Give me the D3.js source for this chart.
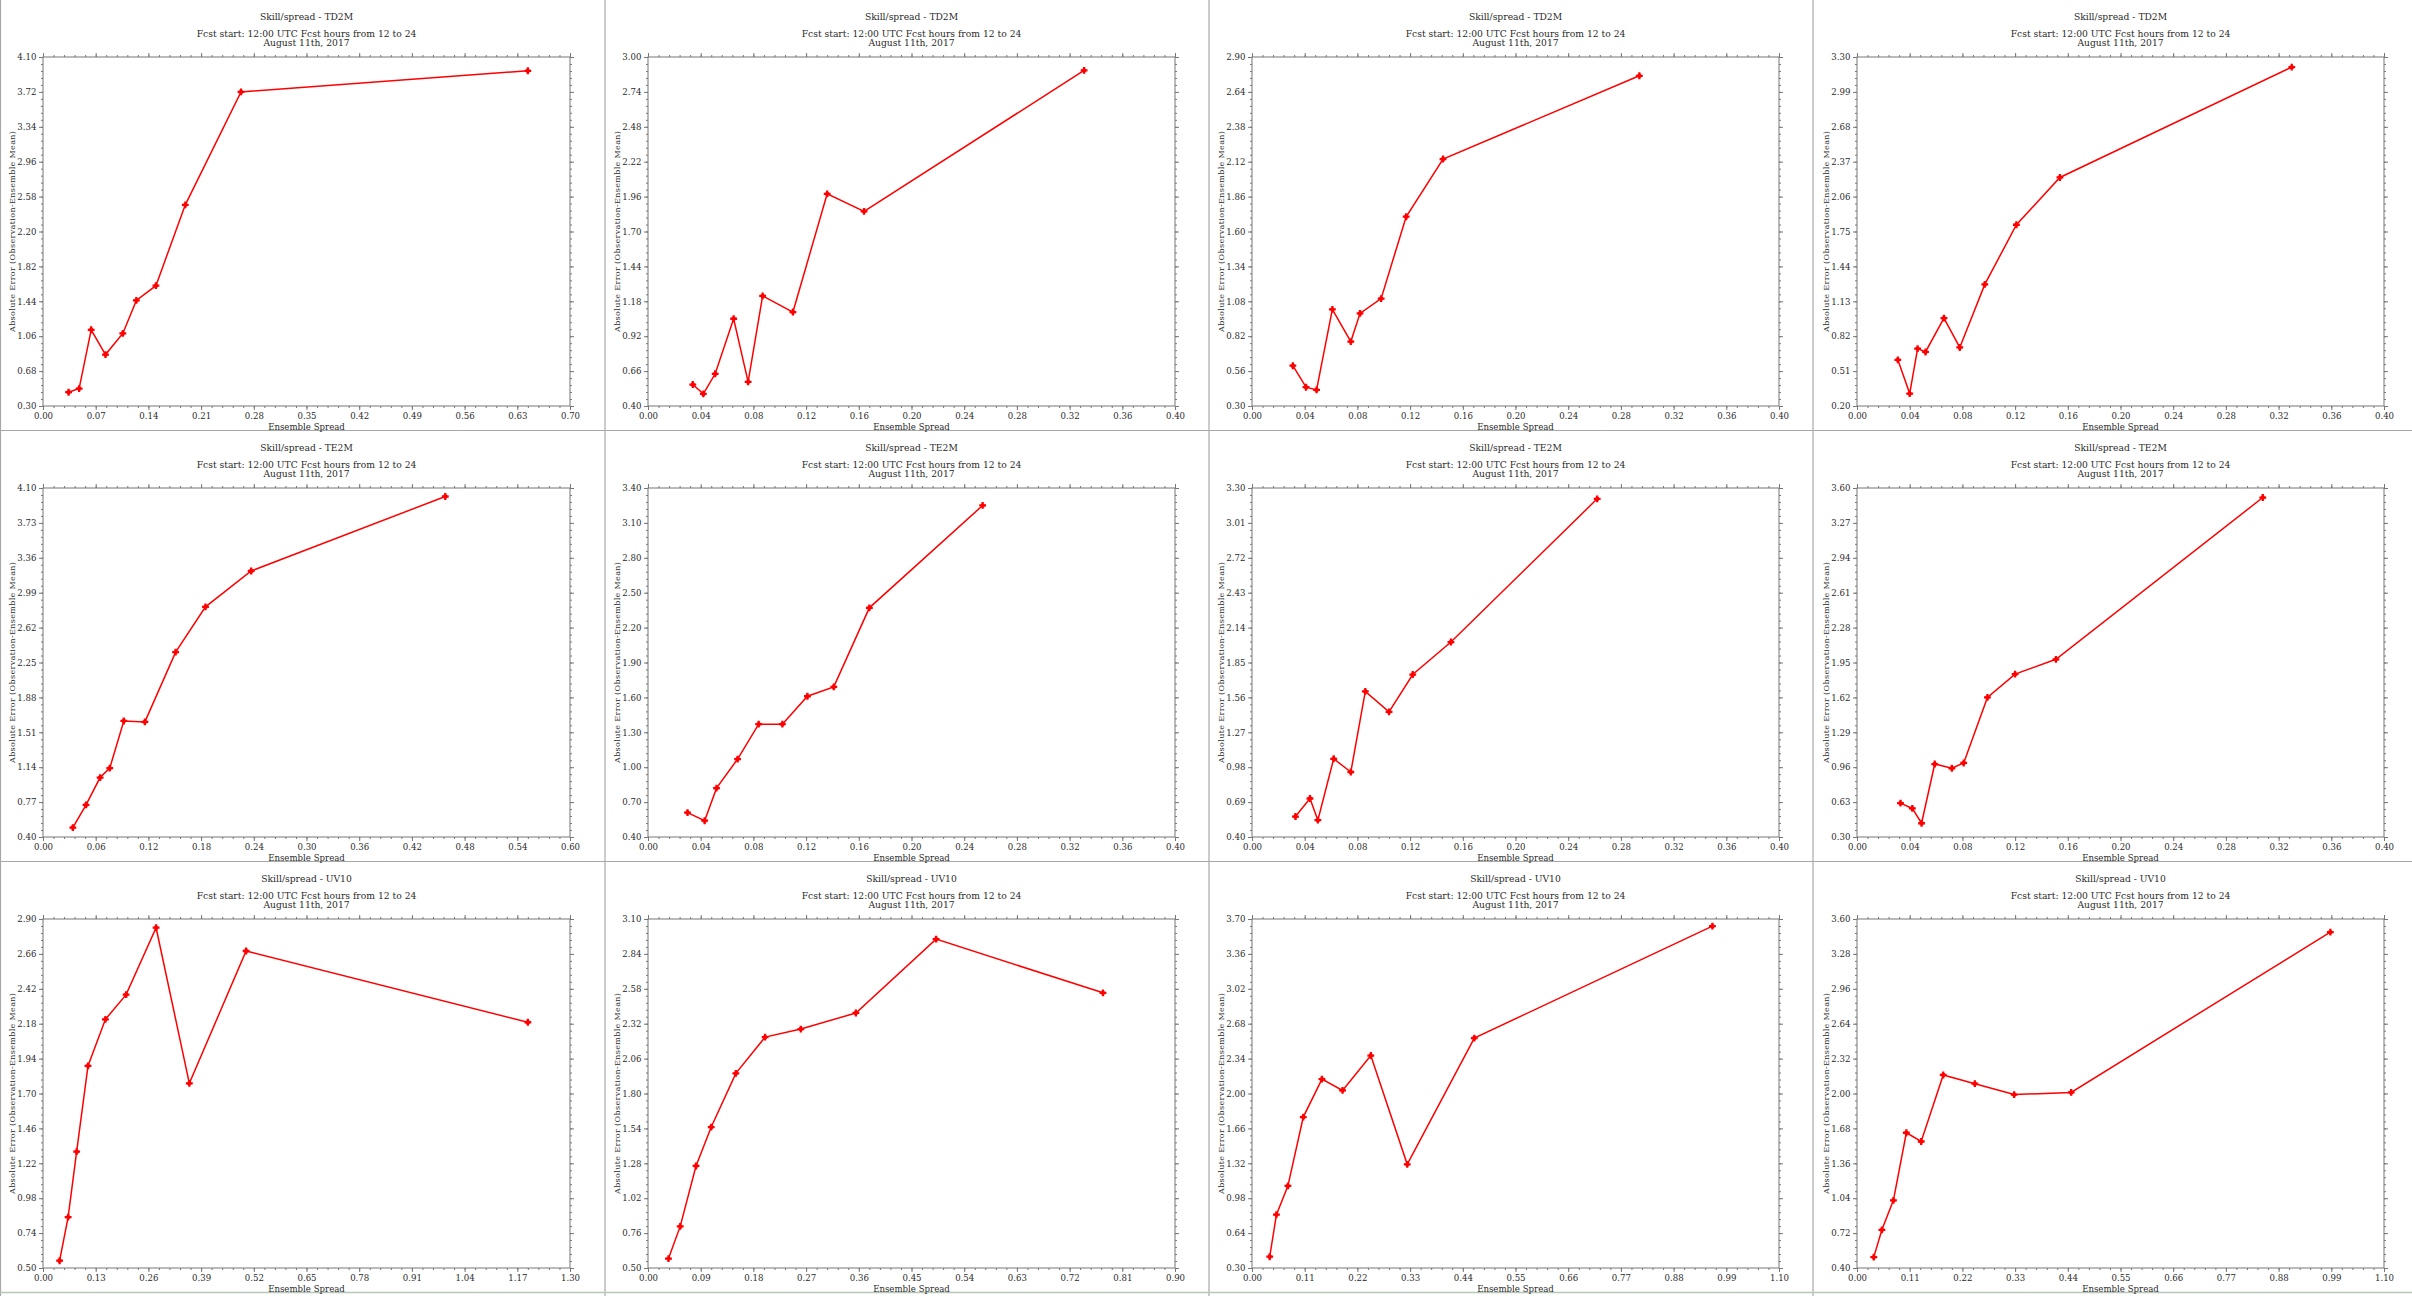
<!DOCTYPE html>
<html>
<head>
<meta charset="utf-8">
<script src="https://cdn.jsdelivr.net/npm/d3@7"></script>
<style>
  body { margin: 0; background: #fff; }
  svg text { font-family: "DejaVu Serif", "Liberation Serif", serif; fill: #2a2a2a; }
</style>
</head>
<body>
<script>
// Chart values, one entry per panel (row by row: TD2M, TE2M, UV10)
var variables = ["TD2M", "TD2M", "TD2M", "TD2M", "TE2M", "TE2M", "TE2M", "TE2M", "UV10", "UV10", "UV10", "UV10"];
var subtitle1 = "Fcst start: 12:00 UTC Fcst hours from 12 to 24";
var subtitle2 = "August 11th, 2017";

// axis ranges (x starts at 0)
var xMax = [0.70, 0.40, 0.40, 0.40, 0.60, 0.40, 0.40, 0.40, 1.30, 0.90, 1.10, 1.10];
var yMin = [0.30, 0.40, 0.30, 0.20, 0.40, 0.40, 0.40, 0.30, 0.50, 0.50, 0.30, 0.40];
var yMax = [4.10, 3.00, 2.90, 3.30, 4.10, 3.40, 3.30, 3.60, 2.90, 3.10, 3.70, 3.60];

// ensemble spread (x) per panel
var spread = [
  [0.034, 0.048, 0.064, 0.083, 0.106, 0.124, 0.150, 0.189, 0.263, 0.644],
  [0.034, 0.042, 0.051, 0.065, 0.076, 0.087, 0.110, 0.136, 0.164, 0.331],
  [0.031, 0.041, 0.049, 0.061, 0.075, 0.082, 0.098, 0.117, 0.145, 0.294],
  [0.031, 0.040, 0.046, 0.052, 0.066, 0.078, 0.097, 0.121, 0.154, 0.330],
  [0.034, 0.049, 0.065, 0.076, 0.092, 0.116, 0.151, 0.185, 0.237, 0.458],
  [0.030, 0.043, 0.052, 0.068, 0.084, 0.102, 0.121, 0.141, 0.168, 0.254],
  [0.033, 0.044, 0.050, 0.062, 0.075, 0.086, 0.104, 0.122, 0.151, 0.262],
  [0.033, 0.042, 0.049, 0.059, 0.072, 0.081, 0.099, 0.120, 0.151, 0.308],
  [0.041, 0.062, 0.083, 0.111, 0.154, 0.205, 0.279, 0.361, 0.501, 1.196],
  [0.035, 0.055, 0.082, 0.108, 0.150, 0.200, 0.261, 0.355, 0.492, 0.777],
  [0.037, 0.051, 0.075, 0.107, 0.146, 0.189, 0.248, 0.324, 0.464, 0.961],
  [0.035, 0.052, 0.076, 0.103, 0.134, 0.180, 0.246, 0.328, 0.447, 0.988]
];

// absolute error (y) per panel
var absError = [
  [0.45, 0.49, 1.13, 0.86, 1.09, 1.45, 1.61, 2.49, 3.72, 3.95],
  [0.56, 0.49, 0.64, 1.05, 0.58, 1.22, 1.10, 1.98, 1.85, 2.90],
  [0.60, 0.44, 0.42, 1.02, 0.78, 0.99, 1.10, 1.71, 2.14, 2.76],
  [0.61, 0.31, 0.71, 0.68, 0.98, 0.72, 1.28, 1.81, 2.23, 3.21],
  [0.50, 0.74, 1.03, 1.13, 1.63, 1.62, 2.36, 2.84, 3.22, 4.01],
  [0.61, 0.54, 0.82, 1.07, 1.37, 1.37, 1.61, 1.69, 2.37, 3.25],
  [0.57, 0.72, 0.54, 1.05, 0.94, 1.61, 1.44, 1.75, 2.02, 3.21],
  [0.62, 0.57, 0.43, 0.99, 0.95, 1.00, 1.62, 1.84, 1.98, 3.51],
  [0.55, 0.85, 1.30, 1.89, 2.21, 2.38, 2.84, 1.77, 2.68, 2.19],
  [0.57, 0.81, 1.26, 1.55, 1.95, 2.22, 2.28, 2.40, 2.95, 2.55],
  [0.41, 0.82, 1.10, 1.77, 2.14, 2.03, 2.37, 1.31, 2.54, 3.63],
  [0.50, 0.75, 1.02, 1.64, 1.56, 2.17, 2.09, 1.99, 2.01, 3.48]
];

var svgWidth = 2412;
var svgHeight = 1296;

// plot area of each column / row
var colLeft = [43, 648, 1252, 1857];
var rowTop = [57, 488, 919];
var plotW = 527;
var plotH = 349;

var svg = d3.select("body")
  .append("svg")
  .attr("width", svgWidth)
  .attr("height", svgHeight);

svg.append("rect")
  .attr("width", svgWidth)
  .attr("height", svgHeight)
  .attr("fill", "#fff");

// panel separators
[0.5, 605, 1209, 1813].forEach(function(x) {
  svg.append("line")
    .attr("x1", x).attr("x2", x)
    .attr("y1", 0).attr("y2", svgHeight)
    .attr("stroke", "#a8a8a8").attr("stroke-width", 1.2);
});
[430.5, 861.5].forEach(function(y) {
  svg.append("line")
    .attr("x1", 0).attr("x2", svgWidth)
    .attr("y1", y).attr("y2", y)
    .attr("stroke", "#a8a8a8").attr("stroke-width", 1.2);
});
svg.append("line")
  .attr("x1", 0).attr("x2", svgWidth)
  .attr("y1", 1292.5).attr("y2", 1292.5)
  .attr("stroke", "#b8c8b8").attr("stroke-width", 1.5);

var fmt = d3.format(".2f");
var symbol = d3.symbol().type(d3.symbolCross).size(26);

variables.forEach(function(v, i) {
  var col = i % 4, row = Math.floor(i / 4);
  var left = colLeft[col], top = rowTop[row];

  var x = d3.scaleLinear().domain([0, xMax[i]]).range([0, plotW]);
  var y = d3.scaleLinear().domain([yMin[i], yMax[i]]).range([plotH, 0]);

  var xMajor = d3.range(11).map(function(k) { return xMax[i] * k / 10; });
  var yMajor = d3.range(11).map(function(k) { return yMin[i] + (yMax[i] - yMin[i]) * k / 10; });
  var xMinor = d3.range(51).map(function(k) { return xMax[i] * k / 50; });
  var yMinor = d3.range(51).map(function(k) { return yMin[i] + (yMax[i] - yMin[i]) * k / 50; });

  var g = svg.append("g")
    .attr("transform", `translate(${left}, ${top})`);

  // titles
  g.append("text")
    .attr("x", plotW / 2).attr("y", -37)
    .attr("text-anchor", "middle")
    .attr("font-size", "9.2px")
    .text("Skill/spread - " + v);
  g.append("text")
    .attr("x", plotW / 2).attr("y", -19.7)
    .attr("text-anchor", "middle")
    .attr("font-size", "9.2px")
    .text(subtitle1);
  g.append("text")
    .attr("x", plotW / 2).attr("y", -11)
    .attr("text-anchor", "middle")
    .attr("font-size", "9.2px")
    .text(subtitle2);

  // frame
  g.append("rect")
    .attr("width", plotW).attr("height", plotH)
    .attr("fill", "none")
    .attr("stroke", "#777").attr("stroke-width", 1);

  function addAxis(axisFn, scale, major, minor, transform, labels) {
    var minorAxis = axisFn(scale).tickValues(minor).tickSize(2).tickFormat("");
    var majorAxis = axisFn(scale).tickValues(major).tickSize(4).tickPadding(2.5)
      .tickFormat(labels ? fmt : "");
    [minorAxis, majorAxis].forEach(function(a) {
      var ax = g.append("g").attr("transform", transform).call(a);
      ax.select(".domain").remove();
      ax.selectAll("line").attr("stroke", "#777");
      ax.selectAll("text")
        .attr("font-size", "8.6px")
        .attr("fill", "#2a2a2a")
        .style("font-family", "DejaVu Serif, serif");
    });
  }

  addAxis(d3.axisBottom, x, xMajor, xMinor, `translate(0, ${plotH})`, true);
  addAxis(d3.axisTop, x, xMajor, xMinor, "translate(0, 0)", false);
  addAxis(d3.axisLeft, y, yMajor, yMinor, "translate(0, 0)", true);
  addAxis(d3.axisRight, y, yMajor, yMinor, `translate(${plotW}, 0)`, false);

  // axis titles
  g.append("text")
    .attr("x", plotW / 2).attr("y", plotH + 23.5)
    .attr("text-anchor", "middle")
    .attr("font-size", "8.6px")
    .text("Ensemble Spread");
  g.append("text")
    .attr("transform", `translate(-28.5, ${plotH / 2}) rotate(-90)`)
    .attr("text-anchor", "middle")
    .attr("font-size", "8px")
    .attr("textLength", 201)
    .attr("lengthAdjust", "spacing")
    .text("Absolute Error (Observation-Ensemble Mean)");

  var pts = spread[i].map(function(s, k) { return [s, absError[i][k]]; });

  var line = d3.line()
    .x(function(d) { return x(d[0]); })
    .y(function(d) { return y(d[1]); });

  g.append("path")
    .datum(pts)
    .attr("d", line)
    .attr("fill", "none")
    .attr("stroke", "#ff0000")
    .attr("stroke-width", 1.5);

  g.selectAll(".pt")
    .data(pts)
    .enter()
    .append("path")
    .attr("class", "pt")
    .attr("transform", function(d) { return `translate(${x(d[0])}, ${y(d[1])})`; })
    .attr("d", symbol)
    .attr("fill", "#ff0000");

  g.selectAll(".dot")
    .data(pts)
    .enter()
    .append("circle")
    .attr("class", "dot")
    .attr("cx", function(d) { return x(d[0]); })
    .attr("cy", function(d) { return y(d[1]); })
    .attr("r", 2.2)
    .attr("fill", "#ff0000");
});
</script>
</body>
</html>
